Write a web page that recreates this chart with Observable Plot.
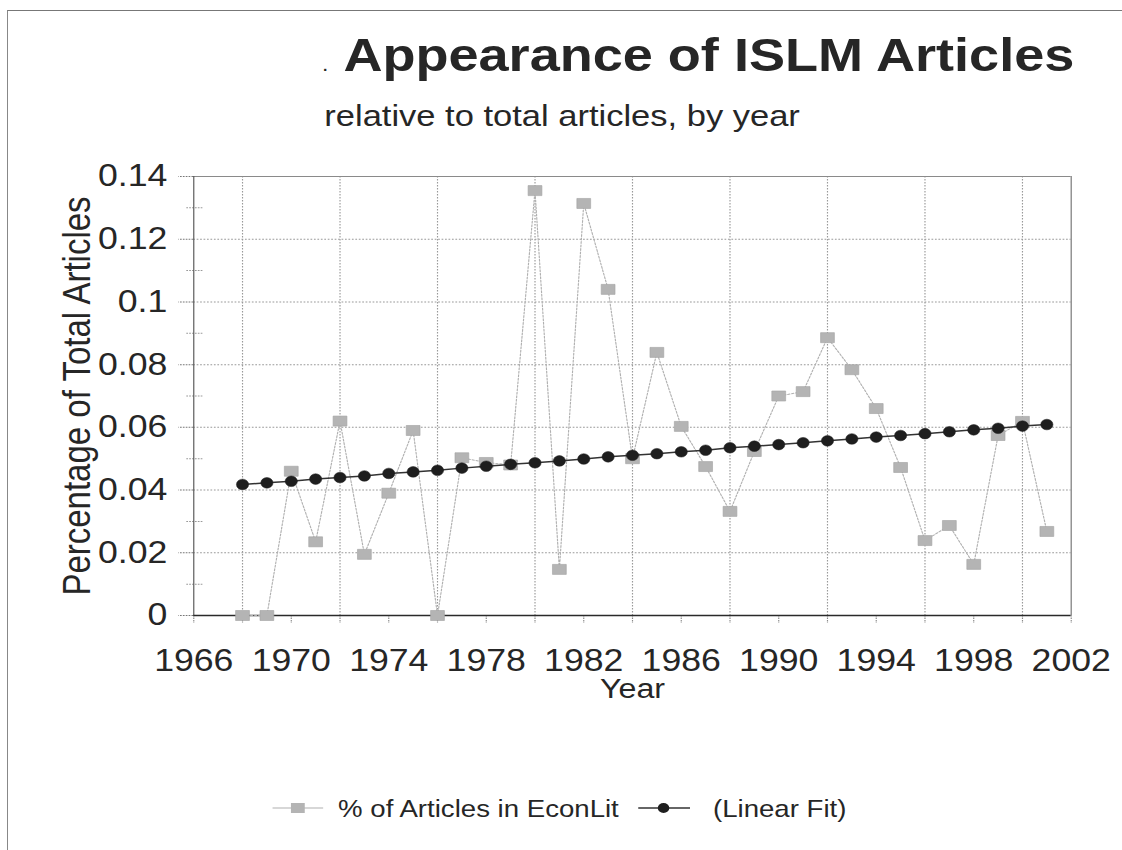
<!DOCTYPE html>
<html>
<head>
<meta charset="utf-8">
<script src="https://cdn.jsdelivr.net/npm/d3@7"></script>
<script src="https://cdn.jsdelivr.net/npm/@observablehq/plot@0.6"></script>
<style>
  html, body { margin: 0; padding: 0; background: #fff; }
  body { width: 1122px; height: 850px; position: relative; overflow: hidden; font-family: "Liberation Sans", Arial, sans-serif; color: #262626; }
  #page { position: absolute; left: 7px; top: 10px; right: -2px; bottom: -2px; border-top: 1px solid #777; border-left: 1px solid #888; }
  #wrap { position: absolute; left: 0; top: 0; width: 976px; height: 850px; transform: scaleX(1.15); transform-origin: 0 0; }
  #title { position: absolute; left: 280px; top: 31px; font-size: 47px; line-height: 47px; font-weight: bold; white-space: nowrap; }
  #title .dot { font-size: 20px; font-weight: normal; }
  #subtitle { position: absolute; left: 282px; top: 101px; font-size: 30px; line-height: 30px; white-space: nowrap; }
  #chart { position: absolute; left: 0; top: 140px; }
  #legend { position: absolute; left: 0; top: 780px; }
</style>
</head>
<body>
<div id="page"></div>
<div id="wrap">
  <div id="title"><span class="dot">.</span>&nbsp;Appearance of ISLM Articles</div>
  <div id="subtitle">relative to total articles, by year</div>
  <div id="chart"></div>
  <svg id="legend" width="976" height="50"></svg>
</div>
<script>
// ---- data ----
const years = [1968,1969,1970,1971,1972,1973,1974,1975,1976,1977,1978,1979,1980,1981,1982,1983,1984,
               1985,1986,1987,1988,1989,1990,1991,1992,1993,1994,1995,1996,1997,1998,1999,2000,2001];
const share = [0,0,0.046,0.0235,0.062,0.0195,0.039,0.059,0,0.0503,0.0488,0.048,0.1355,0.0147,0.1314,0.104,0.050,
               0.0839,0.0603,0.0475,0.0332,0.0523,0.070,0.0714,0.0886,0.0784,0.066,0.0472,0.0239,0.0287,0.0163,0.0574,0.0619,0.0268];
const fit = [0.0418,0.0423,0.0428,0.0435,0.0440,0.0445,0.0453,0.0458,0.0463,0.0470,0.0476,0.0482,0.0487,0.0493,0.0499,0.0506,0.0511,
             0.0516,0.0522,0.0527,0.0535,0.0540,0.0545,0.0551,0.0557,0.0563,0.0569,0.0574,0.0580,0.0586,0.0592,0.0597,0.0604,0.0609];
const xDomain = [1966, 2002];
const yDomain = [0, 0.14];
const xLabelYears = [1966,1970,1974,1978,1982,1986,1990,1994,1998,2002];
const xGridYears = [1968,1972,1976,1980,1984,1988,1992,1996,2000];
const yTicks = [0,0.02,0.04,0.06,0.08,0.1,0.12,0.14];
const yGrid = [0.02,0.04,0.06,0.08,0.1,0.12];
const yMinor = [0.01,0.03,0.05,0.07,0.09,0.11,0.13];
const seriesNames = ["% of Articles in EconLit", "(Linear Fit)"];
const xLabel = "Year";
const yLabel = "Percentage of Total Articles";

const rows = years.map((y, i) => ({year: y, share: share[i], fit: fit[i]}));

const squareSym = { draw(ctx) { ctx.moveTo(-6, -5); ctx.lineTo(6, -5); ctx.lineTo(6, 5); ctx.lineTo(-6, 5); ctx.closePath(); } };
const fmtY = d => String(+d.toFixed(2));
const grid = {stroke: "#999", strokeOpacity: 1, strokeDasharray: "1.5,1.5", strokeWidth: 1};

const chart = Plot.plot({
  width: 976,
  height: 580,
  marginTop: 36,
  marginBottom: 105,
  marginLeft: 168,
  marginRight: 45,
  style: {fontFamily: "'Liberation Sans', Arial, sans-serif", color: "#262626", background: "transparent"},
  x: {domain: xDomain},
  y: {domain: yDomain},
  marks: [
    Plot.gridY(yGrid, grid),
    Plot.gridX(xGridYears, grid),
    Plot.ruleY([yDomain[1]], {stroke: "#8a8a8a", strokeWidth: 1.2}),
    Plot.ruleX([xDomain[1]], {stroke: "#8a8a8a", strokeWidth: 1.2}),
    Plot.axisY(yTicks, {tickSize: 13, tickPadding: 10, tickFormat: fmtY, fontSize: 31, stroke: "#777", strokeDasharray: "1.5,1", label: null}),
    Plot.axisY(yMinor, {tickSize: 15, dx: 8, tickFormat: () => "", stroke: "#999", strokeDasharray: "1.5,1", label: null}),
    Plot.axisX(xLabelYears, {tickSize: 8, tickPadding: 25, tickFormat: d => String(d), fontSize: 31, stroke: "#888", strokeDasharray: "1.5,1", label: null}),
    Plot.axisX(xGridYears, {tickSize: 8, tickFormat: () => "", stroke: "#888", strokeDasharray: "1.5,1", label: null}),
    Plot.ruleX([xDomain[0]], {stroke: "#555", strokeWidth: 1}),
    Plot.ruleY([0], {stroke: "#2a2a2a", strokeWidth: 1.5}),
    Plot.line(rows, {x: "year", y: "share", stroke: "#b0b0b0", strokeWidth: 1, strokeDasharray: "2,1.5"}),
    Plot.dot(rows, {x: "year", y: "share", symbol: squareSym, fill: "#b4b4b4", stroke: "#a5a5a5", strokeWidth: 0.6}),
    Plot.line(rows, {x: "year", y: "fit", stroke: "#333", strokeWidth: 1.5}),
    Plot.dot(rows, {x: "year", y: "fit", r: 5.3, fill: "#1e1e1e", stroke: "#1e1e1e", strokeWidth: 0.5}),
    Plot.text([xLabel], {frameAnchor: "bottom", dy: 74, fontSize: 28, fill: "#262626", lineAnchor: "middle", textAnchor: "middle"}),
    Plot.text([yLabel], {frameAnchor: "left", dx: -101, rotate: -90, fontSize: 33, fill: "#262626", lineAnchor: "middle", textAnchor: "middle"})
  ]
});
document.getElementById("chart").appendChild(chart);

// ---- legend ----
const lg = d3.select("#legend");
lg.append("line").attr("x1", 237).attr("x2", 281).attr("y1", 28).attr("y2", 28).attr("stroke", "#b0b0b0").attr("stroke-width", 1);
lg.append("rect").attr("x", 253).attr("y", 23).attr("width", 12).attr("height", 10).attr("fill", "#b4b4b4");
lg.append("text").attr("x", 294).attr("y", 37).attr("font-size", 24).attr("fill", "#262626")
  .attr("font-family", "'Liberation Sans', Arial, sans-serif").text(seriesNames[0]);
lg.append("line").attr("x1", 555).attr("x2", 600).attr("y1", 28).attr("y2", 28).attr("stroke", "#333").attr("stroke-width", 1.5);
lg.append("circle").attr("cx", 577).attr("cy", 28).attr("r", 5).attr("fill", "#1e1e1e");
lg.append("text").attr("x", 620).attr("y", 37).attr("font-size", 24).attr("fill", "#262626")
  .attr("font-family", "'Liberation Sans', Arial, sans-serif").text(seriesNames[1]);
</script>
</body>
</html>
